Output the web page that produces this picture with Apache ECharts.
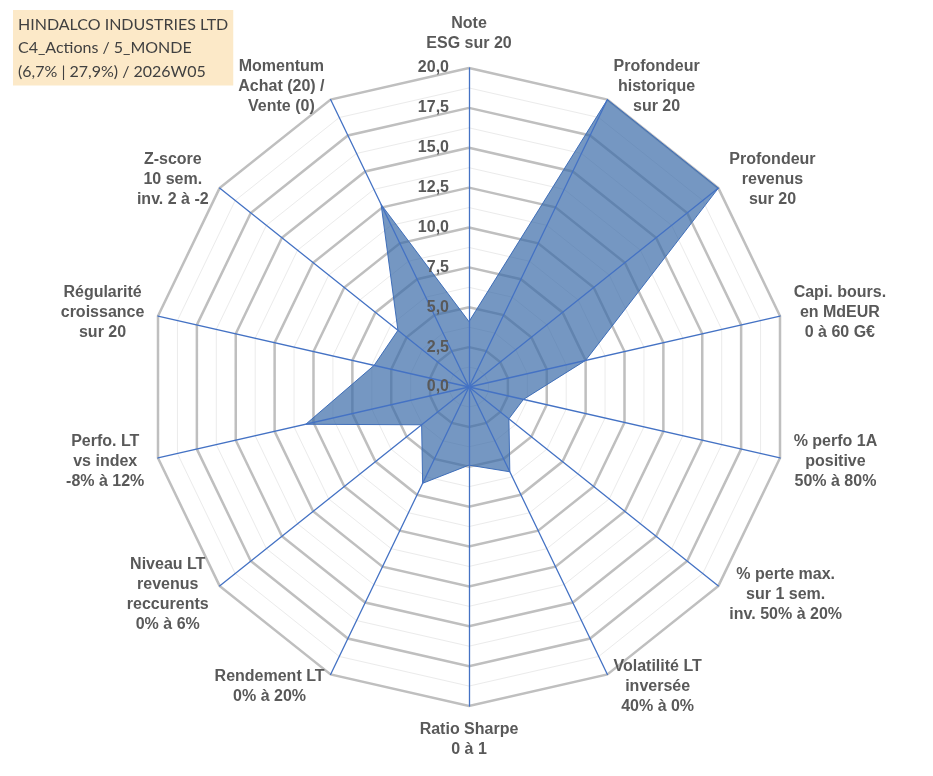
<!DOCTYPE html>
<html><head><meta charset="utf-8">
<script src="https://cdn.jsdelivr.net/npm/echarts@6/dist/echarts.min.js"></script>
<style>
html,body{margin:0;padding:0;background:#fff;}
#c{width:933px;height:776px;outline:1px solid #c8c8c8;outline-offset:-2px;}
</style></head>
<body><div id="c"></div>
<script>
// Axes, clockwise from the top (as in the reference)
const axisNames = [
  'Note\nESG sur 20',
  'Profondeur\nhistorique\nsur 20',
  'Profondeur\nrevenus\nsur 20',
  'Capi. bours.\nen MdEUR\n0 à 60 G€',
  '% perfo 1A\npositive\n50% à 80%',
  '% perte max.\nsur 1 sem.\ninv. 50% à 20%',
  'Volatilité LT\ninversée\n40% à 0%',
  'Ratio Sharpe\n0 à 1',
  'Rendement LT\n0% à 20%',
  'Niveau LT\nrevenus\nreccurents\n0% à 6%',
  'Perfo. LT\nvs index\n-8% à 12%',
  'Régularité\ncroissance\nsur 20',
  'Z-score\n10 sem.\ninv. 2 à -2',
  'Momentum\nAchat (20) /\nVente (0)'
];
const scoreValues = [4.1, 20, 20, 7.5, 3.5, 3.2, 5.9, 4.9, 6.7, 3.8, 10.5, 6.1, 5.7, 12.7];
const tickLabels = ['0,0','2,5','5,0','7,5','10,0','12,5','15,0','17,5','20,0'];
const axisMax = 20;
const titleLines = ['HINDALCO INDUSTRIES LTD', 'C4_Actions / 5_MONDE', '(6,7% | 27,9%) / 2026W05'];

// ECharts places radar indicators counter-clockwise: reorder to get clockwise layout
const order = [0];
for (let k = axisNames.length - 1; k >= 1; k--) order.push(k);

const FONT = "'Liberation Sans', Arial, sans-serif";
const center = ['469', '387'];
const radius = 319;

const indicators = order.map(i => ({ name: axisNames[i], min: 0, max: axisMax }));
const indicatorsWithLabel = order.map((i, idx) => ({
  name: axisNames[i], min: 0, max: axisMax,
  axisLabel: { show: idx === 0 }
}));
const seriesData = order.map(i => scoreValues[i]);

const chart = echarts.init(document.getElementById('c'), null, { renderer: 'canvas' });
chart.setOption({
  backgroundColor: '#ffffff',
  animation: false,
  title: {
    text: titleLines.join('\n'),
    left: 13, top: 10,
    padding: [3, 5, 2, 5],
    backgroundColor: '#FCE9C8',
    textStyle: { fontFamily: 'Lato, Carlito, sans-serif', fontWeight: 'normal', fontSize: 16, color: '#404040', lineHeight: 23.5 }
  },
  radar: [
    { // minor rings
      center, radius, shape: 'polygon', splitNumber: 16, indicator: indicators,
      axisName: { show: false },
      axisLine: { show: false }, axisTick: { show: false }, axisLabel: { show: false },
      splitArea: { show: false },
      splitLine: { lineStyle: { color: '#ebebeb', width: 1 } }
    },
    { // major rings + names
      center, radius, shape: 'polygon', splitNumber: 8, indicator: indicators,
      nameGap: 14,
      axisName: {
        color: '#595959', fontSize: 16, fontWeight: 'bold', fontFamily: FONT, lineHeight: 20,
        formatter: function (name) {
          return name.split('\n').map(l => '{c|' + l + '}').join('\n');
        },
        rich: { c: { align: 'center', color: '#595959', fontSize: 16, fontWeight: 'bold', fontFamily: FONT, lineHeight: 20 } }
      },
      axisLine: { show: false }, axisTick: { show: false }, axisLabel: { show: false },
      splitArea: { show: false },
      splitLine: { lineStyle: { color: '#bfbfbf', width: 2.5 } }
    },
    { // overlay: spokes + tick labels on top of the area
      center, radius, shape: 'polygon', splitNumber: 8, indicator: indicatorsWithLabel,
      z: 5,
      axisName: { show: false },
      axisLine: { show: true, lineStyle: { color: '#4472C4', width: 1.3 } },
      axisTick: { show: false },
      axisLabel: {
        show: false, color: '#595959', fontSize: 16, fontWeight: 'bold', fontFamily: FONT, margin: 20,
        formatter: function (v) { return tickLabels[Math.round(v / (axisMax / 8))]; }
      },
      splitLine: { show: false }, splitArea: { show: false }
    }
  ],
  series: [{
    type: 'radar',
    radarIndex: 1,
    z: 3,
    symbol: 'none',
    lineStyle: { color: '#4472C4', width: 1 },
    areaStyle: { color: '#3B6BA8', opacity: 0.7 },
    data: [{ value: seriesData, name: 'HINDALCO' }]
  }]
});
</script>
</body></html>
